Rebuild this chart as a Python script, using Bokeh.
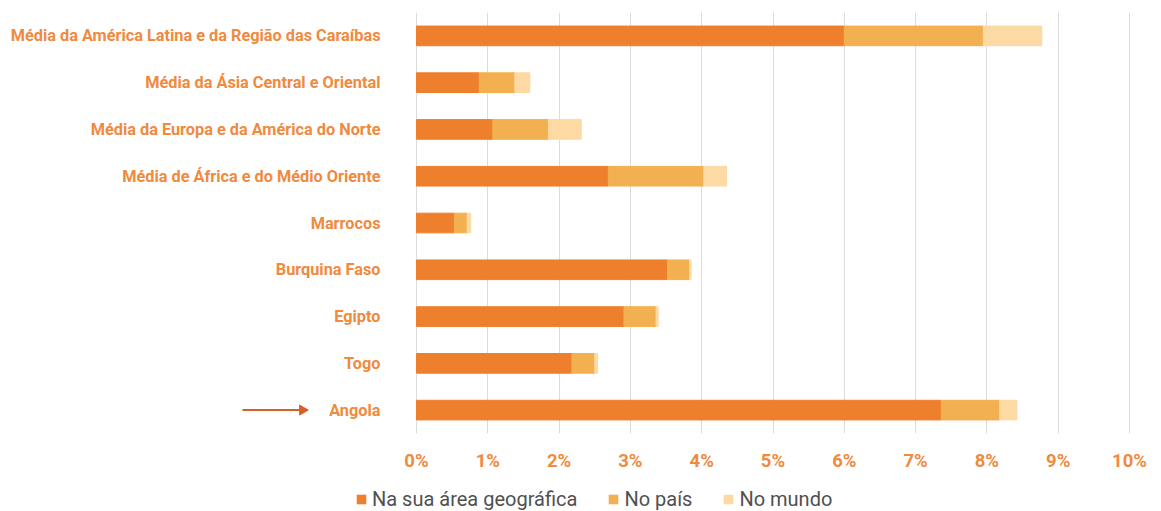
from bokeh.plotting import figure
from bokeh.layouts import column
from bokeh.models import FactorRange, Range1d, Legend, LegendItem, FixedTicker, ColumnDataSource
from bokeh.core.properties import value
from bokeh.embed import file_html
from bokeh.resources import INLINE

categories = [
    "Média da América Latina e da Região das Caraíbas",
    "Média da Ásia Central e Oriental",
    "Média da Europa e da América do Norte",
    "Média de África e do Médio Oriente",
    "Marrocos",
    "Burquina Faso",
    "Egipto",
    "Togo",
    "Angola",
]
area = [6.00, 0.88, 1.07, 2.69, 0.53, 3.52, 2.91, 2.18, 7.36]
pais = [1.95, 0.50, 0.78, 1.34, 0.18, 0.31, 0.45, 0.32, 0.82]
mundo = [0.82, 0.21, 0.46, 0.32, 0.05, 0.02, 0.03, 0.04, 0.24]
series_names = ["Na sua área geográfica", "No país", "No mundo"]
tick_values = list(range(0, 11))
tick_labels = [f"{v}%" for v in tick_values]
highlighted = "Angola"

colors = ["#EE7F2D", "#F2B050", "#FDD9A3"]
label_color = "#F08A3E"
arrow_color = "#D4612A"

W, H = 1160, 475
x0_px = 416.0       # pixel where 0% sits
px_per_unit = 71.3  # pixels per 1%
x_start = -x0_px / px_per_unit
x_end = (W - x0_px) / px_per_unit

cats_bottom_up = categories[::-1]
p = figure(width=W, height=H, y_range=FactorRange(*cats_bottom_up),
           x_range=Range1d(x_start, x_end), output_backend="svg", toolbar_location=None,
           min_border_left=0, min_border_right=0, min_border_top=12, min_border_bottom=42)

data = dict(cat=categories, area=area, pais=pais, mundo=mundo)
data["s1"] = [a for a in area]
data["s2"] = [a + b for a, b in zip(area, pais)]
data["s3"] = [a + b + c for a, b, c in zip(area, pais, mundo)]
data["z"] = [0] * len(categories)

h = 0.42
p.hbar(y="cat", left="z", right="s1", height=h, color=colors[0], source=data)
p.hbar(y="cat", left="s1", right="s2", height=h, color=colors[1], source=data)
p.hbar(y="cat", left="s2", right="s3", height=h, color=colors[2], source=data)

# category labels, right-aligned left of 0%
p.text(x="z", y="cat", text="cat", source=data, x_offset=-36,
       text_align="right", text_baseline="middle",
       text_font=value("Roboto"), text_font_style="bold",
       text_font_size="16.3px", text_color=label_color)

# arrow pointing at the highlighted country
ax0 = (242 - x0_px) / px_per_unit
ax1 = (302 - x0_px) / px_per_unit
p.segment(x0=[ax0], y0=[highlighted], x1=[ax1], y1=[highlighted],
          line_color=arrow_color, line_width=2)
p.scatter(x=[ax1], y=[highlighted], marker="triangle", angle=-1.5708, size=10,
          fill_color=arrow_color, line_color=arrow_color)

p.outline_line_color = None
p.ygrid.grid_line_color = None
p.xgrid.grid_line_color = "#DCDCDC"
p.xgrid.ticker = FixedTicker(ticks=tick_values)
p.yaxis.visible = False

p.xaxis.ticker = FixedTicker(ticks=tick_values)
p.xaxis.major_label_overrides = {v: l for v, l in zip(tick_values, tick_labels)}
p.xaxis.axis_line_color = None
p.xaxis.major_tick_line_color = None
p.xaxis.minor_tick_line_color = None
p.xaxis.major_label_text_color = label_color
p.xaxis.major_label_text_font = "Roboto"
p.xaxis.major_label_text_font_style = "bold"
p.xaxis.major_label_text_font_size = "18.5px"
p.xaxis.major_label_standoff = 10

# legend strip (legend renderers hold one point placed outside the visible range)
lg = figure(width=W, height=36, x_range=(0, 1), y_range=(0, 1), output_backend="svg",
            toolbar_location=None, min_border_left=0, min_border_right=0,
            min_border_top=0, min_border_bottom=0)
lg.axis.visible = False
lg.grid.grid_line_color = None
lg.outline_line_color = None
offscreen = ColumnDataSource(dict(l=[5], r=[6], b=[5], t=[6]))
items = []
for name, c in zip(series_names, colors):
    r = lg.quad(left="l", right="r", bottom="b", top="t", fill_color=c, line_color=None, source=offscreen)
    items.append(LegendItem(label=name, renderers=[r]))
legend = Legend(items=items, orientation="horizontal", location=(355, 0),
                label_text_font="Roboto", label_text_font_size="20px",
                label_text_color="#505050", glyph_width=12, glyph_height=12,
                spacing=30, label_standoff=5, padding=2, margin=0,
                border_line_color=None, background_fill_alpha=0)
lg.add_layout(legend, "center")

layout = column(p, lg, spacing=0)
open("out.html", "w").write(file_html(layout, INLINE))
